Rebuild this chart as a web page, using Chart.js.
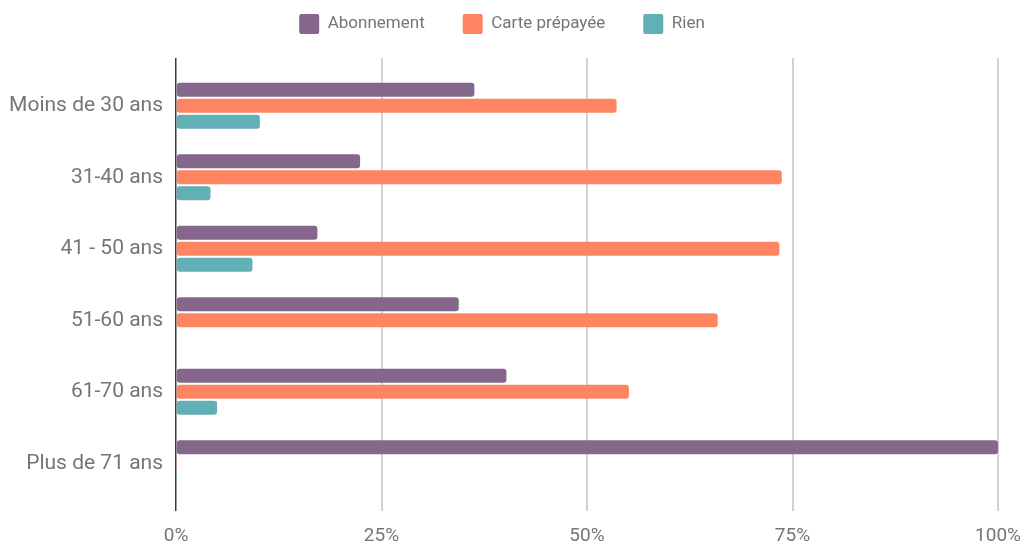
<!DOCTYPE html>
<html>
<head>
<meta charset="utf-8">
<script src="https://cdn.jsdelivr.net/npm/chart.js@4"></script>
<style>
  html, body { margin: 0; padding: 0; background: #fff; }
  #wrap { width: 1024px; height: 544px; }
</style>
</head>
<body>
<div id="wrap"><canvas id="chart"></canvas></div>
<script>
const ageGroups = ["Moins de 30 ans", "31-40 ans", "41 - 50 ans", "51-60 ans", "61-70 ans", "Plus de 71 ans"];
const abonnement = [36.3, 22.4, 17.2, 34.4, 40.2, 100];
const cartePrepayee = [53.6, 73.7, 73.4, 65.9, 55.1, 0];
const rien = [10.2, 4.2, 9.3, 0, 5.0, 0];
const percentTicks = [0, 25, 50, 75, 100];

const textGrey = "#757575";
Chart.defaults.font.family = "Roboto, 'Noto Sans', sans-serif";
Chart.defaults.color = textGrey;

// zero line is dark, the others light grey
const gridColor = ctx => (ctx.tick && ctx.tick.value === 0) ? "#3a3a3a" : "#d2d2d2";
const gridWidth = ctx => (ctx.tick && ctx.tick.value === 0) ? 1.5 : 2;
const fixedTicks = axis => { axis.ticks = percentTicks.map(v => ({ value: v })); };

function bars(label, data, color) {
  return {
    label: label,
    data: data,
    backgroundColor: color,
    borderWidth: 0,
    borderRadius: 3,
    borderSkipped: false,
    minBarLength: 1,
    barPercentage: 0.88,
    categoryPercentage: 0.67
  };
}

new Chart(document.getElementById("chart"), {
  type: "bar",
  data: {
    labels: ageGroups,
    datasets: [
      bars("Abonnement", abonnement, "#85678b"),
      bars("Carte prépayée", cartePrepayee, "#ff8461"),
      bars("Rien", rien, "#62afb5")
    ]
  },
  options: {
    indexAxis: "y",
    animation: false,
    responsive: true,
    maintainAspectRatio: false,
    layout: { padding: { top: -24, left: -20, right: 0, bottom: 0 } },
    plugins: {
      tooltip: { enabled: false },
      legend: {
        position: "top",
        labels: {
          boxWidth: 20,
          boxHeight: 20,
          useBorderRadius: true,
          borderRadius: 2,
          padding: 38,
          color: textGrey,
          font: { size: 17 }
        }
      }
    },
    scales: {
      x: {
        position: "bottom",
        min: 0,
        max: 100,
        afterBuildTicks: fixedTicks,
        afterFit: axis => { axis.height = 45; axis.paddingRight = 26; },
        ticks: {
          callback: v => v + "%",
          padding: 14,
          font: { size: 19 },
          color: textGrey
        },
        grid: { color: gridColor, lineWidth: gridWidth, tickLength: 12 },
        border: { display: false }
      },
      x2: {
        position: "top",
        axis: "x",
        min: 0,
        max: 100,
        afterBuildTicks: fixedTicks,
        afterFit: axis => { axis.height = 26; axis.paddingRight = 26; },
        ticks: { display: false },
        grid: { color: gridColor, lineWidth: gridWidth, tickLength: 12, drawOnChartArea: false },
        border: { display: false }
      },
      y: {
        afterFit: axis => { axis.width = 196; },
        ticks: { padding: 13, font: { size: 21 }, color: textGrey },
        grid: { display: false, drawTicks: false },
        border: { display: false }
      }
    }
  }
});
</script>
</body>
</html>
